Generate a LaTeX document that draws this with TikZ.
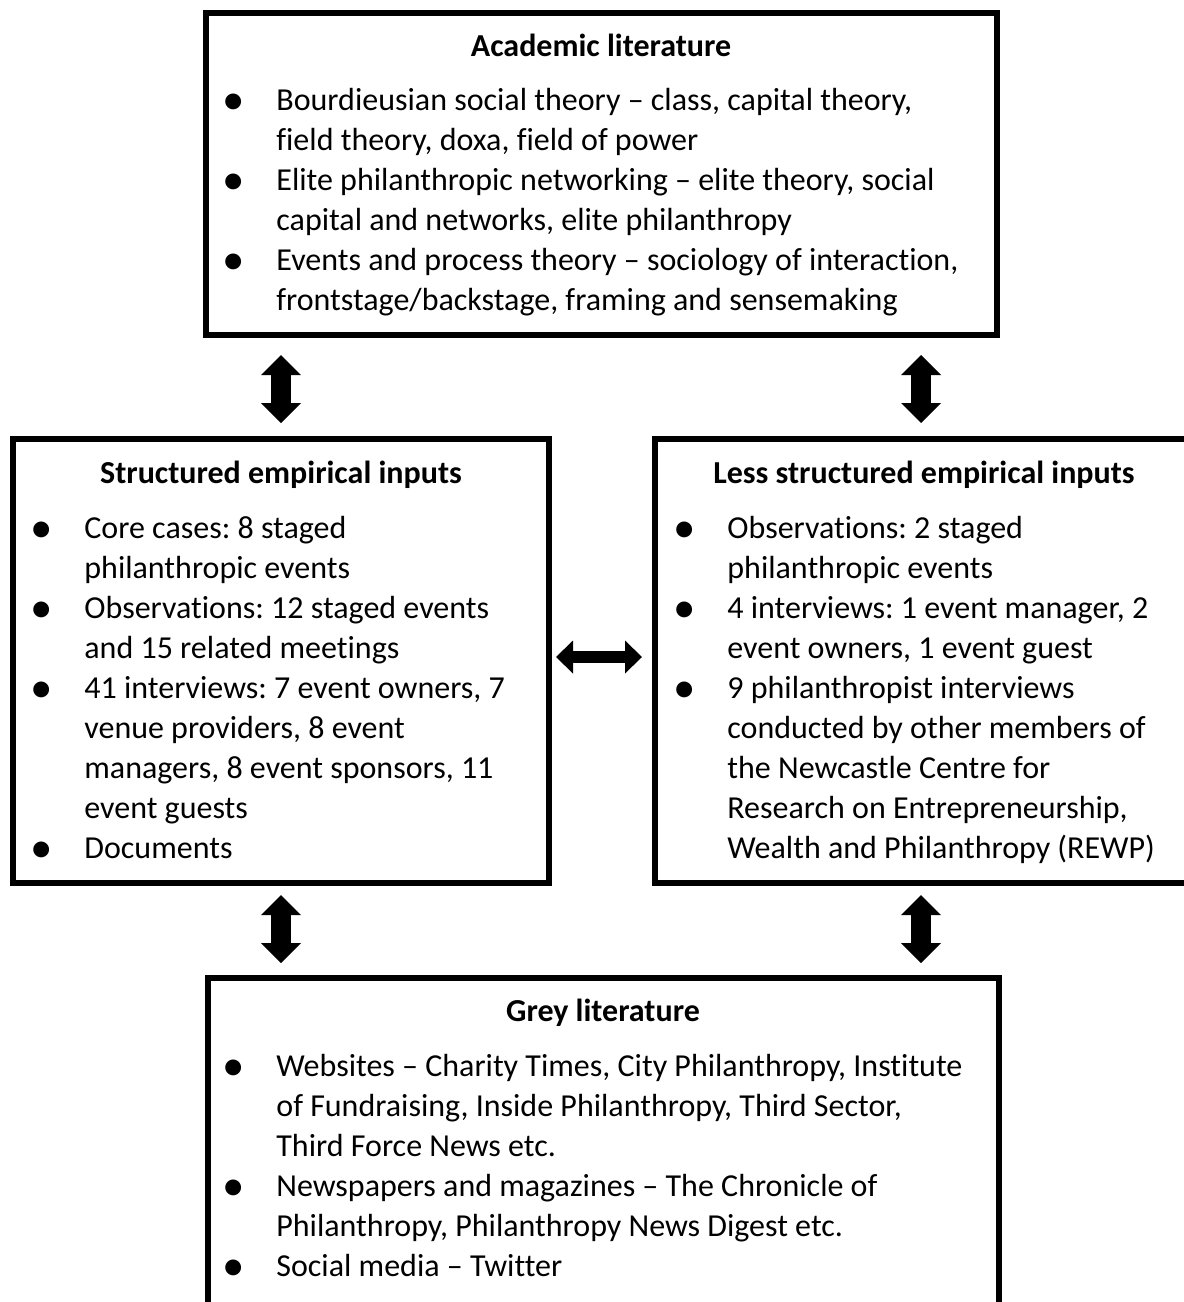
\documentclass[tikz,border=0pt]{standalone}
\usepackage{fontspec}
\setmainfont{Carlito}[Ligatures={NoCommon}]
\usetikzlibrary{arrows.meta}

% body text: 16pt on a 20pt grid
\newcommand\bodysize{\fontsize{16pt}{20pt}\selectfont\frenchspacing}
% bullet cell of a list row
\newcommand\bl{\makebox[7pt]{\raisebox{-2.1pt}{\scalebox{1.4}{\textbullet}}}}
\newenvironment{bulletlist}{\begin{tabular}[t]{@{}p{25pt}@{}l@{}}}{\end{tabular}}

\tikzset{
  panel/.style={draw=black, line width=3pt, inner sep=0pt},
  heading/.style={font=\bodysize\bfseries, anchor=base, inner sep=0pt},
  listtext/.style={font=\bodysize, anchor=base west, inner sep=0pt},
  vlink/.style={line width=10pt,
    {Triangle[width=20pt,length=10pt,line width=0pt]}-{Triangle[width=20pt,length=10pt,line width=0pt]}},
  hlink/.style={line width=6pt,
    {Triangle[width=16.5pt,length=8.5pt,line width=0pt]}-{Triangle[width=16.5pt,length=8.5pt,line width=0pt]}},
}

\begin{document}
\begin{tikzpicture}[x=0.5pt, y=-0.5pt]
\clip (0,0) rectangle (1184,1302);
\fill[white] (0,0) rectangle (1184,1302);

% ---- frames ----
\node[panel, minimum width=395.5pt, minimum height=161pt] (acad) at (601.5,174) {};
\node[panel, minimum width=268pt, minimum height=222pt] (lbox) at (281,661) {};
\node[panel, minimum width=266pt, minimum height=222pt] (rbox) at (921,661) {};
\node[panel, minimum width=395.5pt, minimum height=181pt] (grey) at (603,1159) {};

% ---- academic literature ----
\node[heading] (acadtitle) at (601,56) {Academic literature};
\node[listtext] (acadlist) at (226,110) {\begin{bulletlist}
\bl & Bourdieusian social theory – class, capital theory,\\
    & field theory, doxa, field of power\\
\bl & Elite philanthropic networking – elite theory, social\\
    & capital and networks, elite philanthropy\\
\bl & Events and process theory – sociology of interaction,\\
    & frontstage/backstage, framing and sensemaking
\end{bulletlist}};

% ---- structured empirical inputs ----
\node[heading] (ltitle) at (281,483) {Structured empirical inputs};
\node[listtext] (llist) at (34,538) {\begin{bulletlist}
\bl & Core cases: 8 staged\\
    & philanthropic events\\
\bl & Observations: 12 staged events\\
    & and 15 related meetings\\
\bl & 41 interviews: 7 event owners, 7\\
    & venue providers, 8 event\\
    & managers, 8 event sponsors, 11\\
    & event guests\\
\bl & Documents
\end{bulletlist}};

% ---- less structured empirical inputs ----
\node[heading] (rtitle) at (924,483) {Less structured empirical inputs};
\node[listtext] (rlist) at (677,538) {\begin{bulletlist}
\bl & Observations: 2 staged\\
    & philanthropic events\\
\bl & 4 interviews: 1 event manager, 2\\
    & event owners, 1 event guest\\
\bl & 9 philanthropist interviews\\
    & conducted by other members of\\
    & the Newcastle Centre for\\
    & Research on Entrepreneurship,\\
    & Wealth and Philanthropy (REWP)
\end{bulletlist}};

% ---- grey literature ----
\node[heading] (greytitle) at (603,1021) {Grey literature};
\node[listtext] (greylist) at (226,1076) {\begin{bulletlist}
\bl & Websites – Charity Times, City Philanthropy, Institute\\
    & of Fundraising, Inside Philanthropy, Third Sector,\\
    & Third Force News etc.\\
\bl & Newspapers and magazines – The Chronicle of\\
    & Philanthropy, Philanthropy News Digest etc.\\
\bl & Social media – Twitter
\end{bulletlist}};

% ---- two-way links ----
\draw[vlink, shorten <=8.5pt, shorten >=6.5pt] (lbox.north |- acad.south) -- (lbox.north);
\draw[vlink, shorten <=8.5pt, shorten >=6.5pt] (rbox.north |- acad.south) -- (rbox.north);
\draw[hlink, shorten <=2pt, shorten >=5pt] ([yshift=2pt]lbox.east) -- ([yshift=2pt]rbox.west);
\draw[vlink, shorten <=4.5pt, shorten >=6pt] (lbox.south) -- (lbox.south |- grey.north);
\draw[vlink, shorten <=4.5pt, shorten >=6pt] (rbox.south) -- (rbox.south |- grey.north);
\end{tikzpicture}
\end{document}
